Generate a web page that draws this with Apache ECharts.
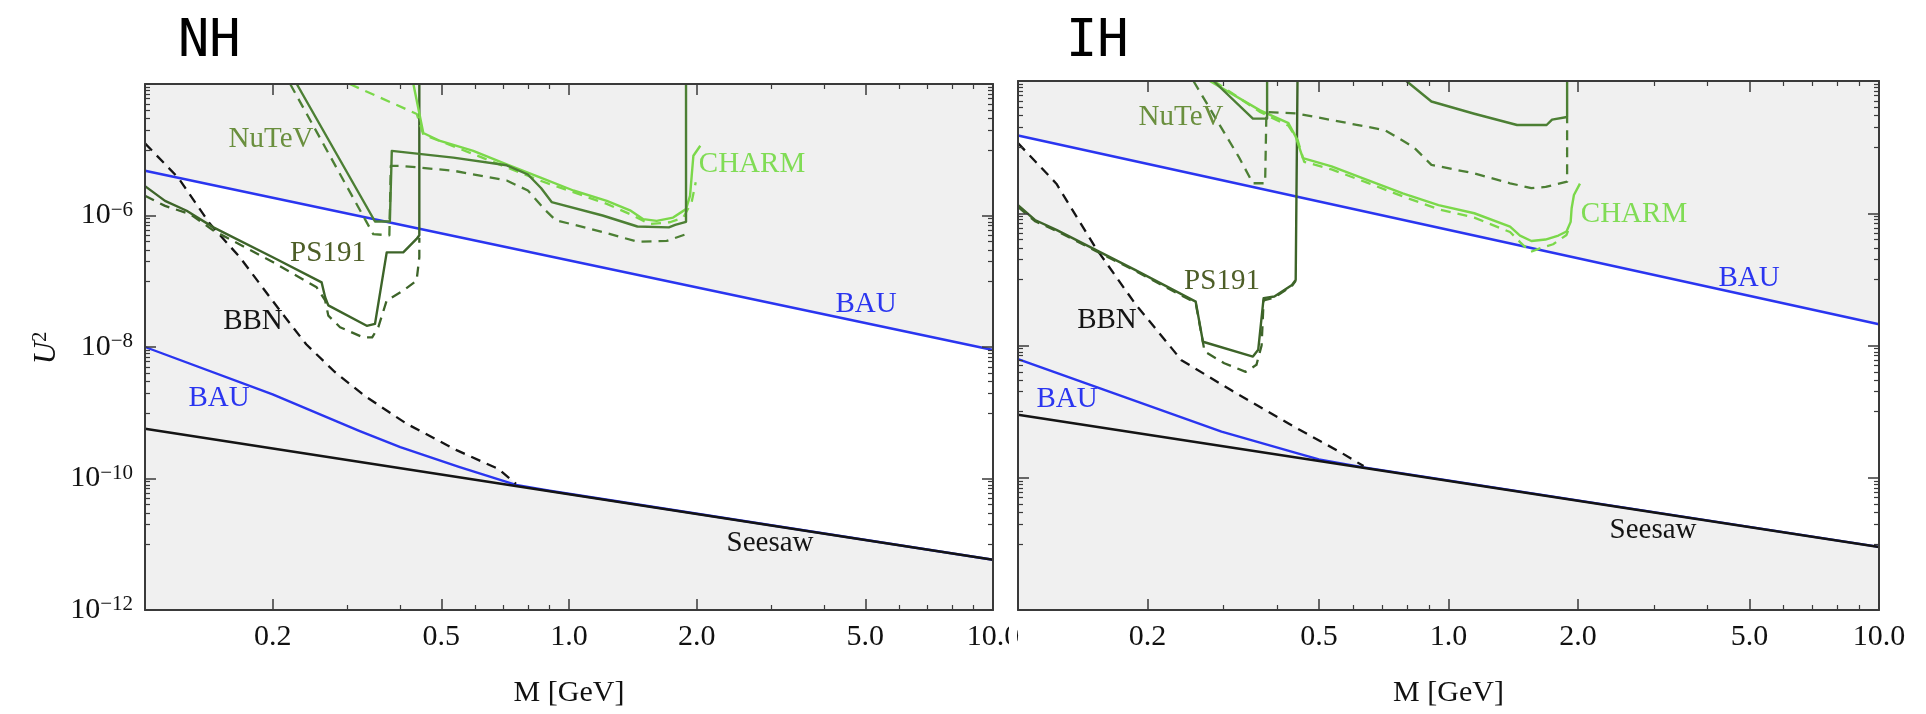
<!DOCTYPE html>
<html>
<head>
<meta charset="utf-8">
<script src="https://cdn.jsdelivr.net/npm/echarts@6/dist/echarts.min.js"></script>
<style>
  html, body { margin: 0; padding: 0; background: #fff; }
  #chart { width: 1926px; height: 714px; }
</style>
</head>
<body>
<div id="chart"></div>
<script>
// ---- axis ranges and ticks ----
const xRange = [0.1, 10];
const yRange = [1e-12, 1e-4];
const xMajorTicks = [0.2, 0.5, 1, 2, 5, 10];
const xMajorLabels = ['0.2', '0.5', '1.0', '2.0', '5.0', '10.0'];
const xMinorTicks = [0.3, 0.4, 0.6, 0.7, 0.8, 0.9, 3, 4, 6, 7, 8, 9];
const yMajorTicks = [1e-12, 1e-10, 1e-8, 1e-6, 1e-4];
const yLabelExponents = [-12, -10, -8, -6];
const yMinorDecades = [-11, -9, -7, -5];
const yMinorMantissas = [1, 2, 3, 4, 5, 6, 7, 8, 9];

// ---- NH: normal hierarchy (M in GeV, U^2) ----
const nhBauUpper = [[0.1, 4.8e-6], [10, 9.0e-9]];
const nhSeesaw = [[0.1, 5.7e-10], [10, 5.8e-12]];
const nhBauLower = [[0.1, 1.0e-8], [0.2, 1.9e-9], [0.32, 5.3e-10], [0.4, 3.0e-10], [0.55, 1.5e-10], [0.75, 8.0e-11], [0.9, 6.5e-11], [10, 5.8e-12]];
const nhBbn = [[0.1, 1.25e-5], [0.12, 3.7e-6], [0.142, 7.6e-7], [0.1675, 2.3e-7], [0.208, 3.6e-8], [0.24, 1.1e-8], [0.28, 4.2e-9], [0.33, 1.8e-9], [0.414, 6.8e-10], [0.543, 2.7e-10], [0.681, 1.4e-10], [0.75, 8.3e-11]];
const nhPs191 = [[0.1, 2.8e-6], [0.1115, 1.67e-6], [0.1254, 1.18e-6], [0.145, 6.6e-7], [0.2007, 2.3e-7], [0.261, 9.6e-8], [0.266, 5.7e-8], [0.2706, 4.3e-8], [0.3334, 2.1e-8], [0.3487, 2.25e-8], [0.3716, 2.75e-7], [0.4065, 2.75e-7], [0.437, 4.4e-7], [0.4436, 5.0e-7], [0.4436, 1e-4]];
const nhPs191Dashed = [[0.1, 2.0e-6], [0.1115, 1.4e-6], [0.1277, 1.05e-6], [0.145, 5.9e-7], [0.2007, 1.94e-7], [0.254, 8.1e-8], [0.266, 5.1e-8], [0.2706, 3.0e-8], [0.2884, 2.0e-8], [0.327, 1.4e-8], [0.3434, 1.4e-8], [0.355, 2.0e-8], [0.3716, 5.1e-8], [0.4065, 7.2e-8], [0.437, 1.02e-7], [0.4436, 2.3e-7], [0.4436, 4.6e-7]];
const nhNutev = [[0.228, 1e-4], [0.3487, 8.1e-7], [0.378, 8.1e-7], [0.382, 9.6e-6], [0.5335, 7.6e-6], [0.713, 5.8e-6], [0.80, 4.2e-6], [0.86, 2.6e-6], [0.91, 1.6e-6], [1.2, 1.0e-6], [1.45, 6.8e-7], [1.72, 6.6e-7], [1.78, 7.2e-7], [1.888, 8.0e-7], [1.888, 1e-4]];
const nhNutevDashed = [[0.22, 1e-4], [0.3454, 5.2e-7], [0.377, 5.0e-7], [0.38, 5.7e-6], [0.3995, 5.7e-6], [0.5335, 4.8e-6], [0.713, 3.4e-6], [0.80, 2.4e-6], [0.88, 1.2e-6], [0.93, 8.5e-7], [1.2, 5.6e-7], [1.45, 4.0e-7], [1.7, 4.1e-7], [1.888, 5.2e-7]];
const nhCharm = [[0.4295, 1e-4], [0.4533, 1.8e-5], [0.4966, 1.36e-5], [0.5946, 9.6e-6], [0.713, 6.0e-6], [0.854, 3.8e-6], [1.024, 2.4e-6], [1.228, 1.67e-6], [1.393, 1.2e-6], [1.497, 8.8e-7], [1.61, 8.3e-7], [1.76, 9.3e-7], [1.888, 1.25e-6], [1.93, 2.0e-6], [1.947, 4.0e-6], [1.965, 8.1e-6], [2.04, 1.15e-5]];
const nhCharmDashed = [[0.304, 1e-4], [0.4375, 3.5e-5], [0.4533, 1.7e-5], [0.5946, 8.6e-6], [0.854, 3.4e-6], [1.228, 1.5e-6], [1.393, 1.05e-6], [1.55, 7.4e-7], [1.73, 7.9e-7], [1.86, 9.3e-7], [1.947, 1.6e-6], [1.99, 3.2e-6]];

// ---- IH: inverted hierarchy ----
const ihBauUpper = [[0.1, 1.5e-5], [10, 2.1e-8]];
const ihSeesaw = [[0.1, 9.0e-10], [10, 9.0e-12]];
const ihBauLower = [[0.1, 6.2e-9], [0.297, 5.0e-10], [0.44, 2.4e-10], [0.5, 1.9e-10], [0.63, 1.45e-10], [10, 9.0e-12]];
const ihBbn = [[0.1, 1.15e-5], [0.1228, 2.8e-6], [0.1515, 3.0e-7], [0.187, 4.3e-8], [0.2397, 6.0e-9], [0.313, 2.1e-9], [0.425, 6.6e-10], [0.566, 2.35e-10], [0.635, 1.5e-10]];
const ihPs191 = [[0.1, 1.33e-6], [0.1095, 7.9e-7], [0.1228, 5.6e-7], [0.1515, 2.8e-7], [0.187, 1.39e-7], [0.2587, 4.6e-8], [0.2689, 1.14e-8], [0.3513, 6.8e-9], [0.3614, 8.6e-9], [0.372, 5.2e-8], [0.394, 5.5e-8], [0.433, 8.2e-8], [0.4416, 9.8e-8], [0.4459, 1e-4]];
const ihPs191Dashed = [[0.1, 1.25e-6], [0.1095, 7.6e-7], [0.1228, 5.4e-7], [0.1515, 2.7e-7], [0.187, 1.35e-7], [0.2587, 4.4e-8], [0.2713, 8.1e-9], [0.3014, 5.4e-9], [0.338, 4.0e-9], [0.358, 5.1e-9], [0.368, 1.0e-8], [0.372, 4.8e-8], [0.394, 5.3e-8], [0.433, 8.0e-8], [0.4416, 9.5e-8]];
const ihNutevLow = [[0.2846, 1e-4], [0.3513, 2.7e-5], [0.379, 2.7e-5], [0.379, 1e-4]];
const ihNutevHigh = [[0.798, 1e-4], [0.9127, 4.9e-5], [1.148, 3.2e-5], [1.443, 2.16e-5], [1.69, 2.16e-5], [1.74, 2.6e-5], [1.886, 2.85e-5], [1.886, 1e-4]];
const ihNutevDashed = [[0.2556, 1e-4], [0.2956, 2.04e-5], [0.3254, 7.2e-6], [0.3513, 2.84e-6], [0.375, 2.84e-6], [0.3776, 3.4e-5], [0.4416, 3.24e-5], [0.535, 2.57e-5], [0.712, 1.8e-5], [0.83, 1.0e-5], [0.9127, 5.4e-6], [1.148, 4.0e-6], [1.39, 2.84e-6], [1.558, 2.4e-6], [1.682, 2.5e-6], [1.886, 3.0e-6], [1.886, 2.8e-5]];
const ihCharm = [[0.279, 1e-4], [0.365, 3.6e-5], [0.425, 2.3e-5], [0.4416, 1.44e-5], [0.4589, 6.8e-6], [0.535, 5.1e-6], [0.647, 3.2e-6], [0.783, 2.0e-6], [0.948, 1.33e-6], [1.148, 1.0e-6], [1.39, 6.3e-7], [1.466, 4.6e-7], [1.558, 3.8e-7], [1.68, 4.0e-7], [1.80, 4.6e-7], [1.88, 5.3e-7], [1.922, 7.4e-7], [1.932, 1.19e-6], [1.956, 1.89e-6], [2.02, 2.8e-6]];
const ihCharmDashed = [[0.285, 1e-4], [0.365, 3.4e-5], [0.425, 2.1e-5], [0.446, 1.3e-5], [0.462, 6.0e-6], [0.535, 4.6e-6], [0.647, 2.9e-6], [0.783, 1.8e-6], [0.948, 1.15e-6], [1.148, 8.6e-7], [1.39, 5.2e-7], [1.47, 3.6e-7], [1.55, 2.6e-7], [1.63, 2.95e-7], [1.75, 3.4e-7], [1.88, 4.7e-7], [1.91, 6.2e-7]];

// ---- styling ----
const FRAME = '#3a3a3a';
const SHADE = '#f0f0f0';
const BLUE = '#2a35f0';
const BLACK = '#141414';
const DARK_GREEN = '#3d6429';
const MID_GREEN = '#4c7f34';
const LIGHT_GREEN = '#7bd84a';
const SERIF = '"Liberation Serif", "Times New Roman", serif';

const lg = Math.log10;
const yMinorTicks = [];
yMinorDecades.forEach(d => yMinorMantissas.forEach(m => yMinorTicks.push(m * Math.pow(10, d))));

function xLabelFor(v) {
  for (let i = 0; i < xMajorTicks.length; i++) {
    if (Math.abs(lg(xMajorTicks[i]) - v) < 1e-6) return xMajorLabels[i];
  }
  return '';
}

// Each panel gets one hidden log axis per direction that carries the data,
// plus value axes (in decades) that draw the framed, mirrored tick marks.
function panelXAxes(grid, withName) {
  const common = { gridIndex: grid, type: 'value', min: lg(xRange[0]), max: lg(xRange[1]),
    splitLine: { show: false }, z: 10, silent: true };
  const majorTick = { show: true, inside: true, length: 11, customValues: xMajorTicks.map(lg),
    lineStyle: { color: FRAME, width: 1.5 } };
  const minorTick = { show: true, inside: true, length: 5, customValues: xMinorTicks.map(lg),
    lineStyle: { color: FRAME, width: 1.2 } };
  const frame = { show: true, onZero: false, lineStyle: { color: FRAME, width: 2 } };
  return [
    { gridIndex: grid, type: 'log', logBase: 10, min: xRange[0], max: xRange[1], show: false },
    Object.assign({}, common, {
      position: 'bottom', axisLine: frame, axisTick: majorTick,
      axisLabel: { show: true, customValues: xMajorTicks.map(lg), formatter: xLabelFor, margin: 12,
        color: '#111', fontFamily: SERIF, fontSize: 30 },
      name: withName ? 'M [GeV]' : '', nameLocation: 'middle', nameGap: 68,
      nameTextStyle: { fontFamily: SERIF, fontSize: 30, color: '#111' }
    }),
    Object.assign({}, common, { position: 'bottom', axisLine: { show: false, onZero: false }, axisTick: minorTick, axisLabel: { show: false } }),
    Object.assign({}, common, { position: 'top', axisLine: frame, axisTick: majorTick, axisLabel: { show: false } }),
    Object.assign({}, common, { position: 'top', axisLine: { show: false, onZero: false }, axisTick: minorTick, axisLabel: { show: false } })
  ];
}

function panelYAxes(grid, withLabels) {
  const common = { gridIndex: grid, type: 'value', min: lg(yRange[0]), max: lg(yRange[1]),
    splitLine: { show: false }, z: 10, silent: true };
  const majorTick = { show: true, inside: true, length: 11, customValues: yMajorTicks.map(lg),
    lineStyle: { color: FRAME, width: 1.5 } };
  const minorTick = { show: true, inside: true, length: 5, customValues: yMinorTicks.map(lg),
    lineStyle: { color: FRAME, width: 1.2 } };
  const frame = { show: true, onZero: false, lineStyle: { color: FRAME, width: 2 } };
  return [
    { gridIndex: grid, type: 'log', logBase: 10, min: yRange[0], max: yRange[1], show: false },
    Object.assign({}, common, {
      position: 'left', axisLine: frame, axisTick: majorTick,
      axisLabel: withLabels ? {
        show: true, customValues: yLabelExponents, margin: 12,
        formatter: v => '{b|10}{s|\u2212' + Math.abs(Math.round(v)) + '}',
        rich: {
          b: { fontFamily: SERIF, fontSize: 30, color: '#111', lineHeight: 32 },
          s: { fontFamily: SERIF, fontSize: 21, color: '#111', verticalAlign: 'top', lineHeight: 32, padding: [0, 0, 13, 0] }
        }
      } : { show: false }
    }),
    Object.assign({}, common, { position: 'left', axisLine: { show: false, onZero: false }, axisTick: minorTick, axisLabel: { show: false } }),
    Object.assign({}, common, { position: 'right', axisLine: frame, axisTick: majorTick, axisLabel: { show: false } }),
    Object.assign({}, common, { position: 'right', axisLine: { show: false, onZero: false }, axisTick: minorTick, axisLabel: { show: false } })
  ];
}

function fill(grid, data, color) {
  return { type: 'line', xAxisIndex: grid * 5, yAxisIndex: grid * 5, data: data, symbol: 'none', silent: true,
    lineStyle: { opacity: 0 }, areaStyle: { color: color, opacity: 1, origin: yRange[0] }, z: 1 };
}
function curve(grid, data, color, width, dash) {
  return { type: 'line', xAxisIndex: grid * 5, yAxisIndex: grid * 5, data: data, symbol: 'none', silent: true,
    lineStyle: { color: color, width: width, type: dash ? dash : 'solid', cap: 'butt', join: 'round' }, z: 3 };
}

function panelSeries(g, d) {
  return [
    // allowed band between the BAU bound and the lower bounds is white
    fill(g, d.bauUpper, '#ffffff'),
    fill(g, d.bbn, SHADE),
    fill(g, d.bauLower, SHADE),
    fill(g, d.seesaw, SHADE),
    curve(g, d.bauLower, BLUE, 2.4),
    curve(g, d.seesaw, BLACK, 2.5),
    curve(g, d.bauUpper, BLUE, 2.6),
    curve(g, d.bbn, BLACK, 2.3, [10, 7]),
    curve(g, d.ps191Dashed, DARK_GREEN, 2.3, [10, 7]),
    curve(g, d.ps191, DARK_GREEN, 2.4),
    curve(g, d.charmDashed, LIGHT_GREEN, 2.3, [10, 7]),
    curve(g, d.charm, LIGHT_GREEN, 2.4),
    curve(g, d.nutevDashed, MID_GREEN, 2.3, [10, 7])
  ].concat(d.nutev.map(seg => curve(g, seg, MID_GREEN, 2.4)));
}

function label(text, x, y, color) {
  return { type: 'text', z: 50, silent: true,
    style: { text: text, x: x, y: y, fill: color, font: '29px ' + SERIF,
      textAlign: 'center', textVerticalAlign: 'middle' } };
}

const option = {
  animation: false,
  backgroundColor: '#ffffff',
  grid: [
    { left: 145, top: 84, width: 848, height: 526, show: true, backgroundColor: SHADE, borderWidth: 0 },
    { left: 1018, top: 81, width: 861, height: 529, show: true, backgroundColor: SHADE, borderWidth: 0 }
  ],
  xAxis: panelXAxes(0, true).concat(panelXAxes(1, true)),
  yAxis: panelYAxes(0, true).concat(panelYAxes(1, false)),
  series: panelSeries(0, {
    bauUpper: nhBauUpper, seesaw: nhSeesaw, bauLower: nhBauLower, bbn: nhBbn,
    ps191: nhPs191, ps191Dashed: nhPs191Dashed, nutev: [nhNutev], nutevDashed: nhNutevDashed,
    charm: nhCharm, charmDashed: nhCharmDashed
  }).concat(panelSeries(1, {
    bauUpper: ihBauUpper, seesaw: ihSeesaw, bauLower: ihBauLower, bbn: ihBbn,
    ps191: ihPs191, ps191Dashed: ihPs191Dashed, nutev: [ihNutevLow, ihNutevHigh], nutevDashed: ihNutevDashed,
    charm: ihCharm, charmDashed: ihCharmDashed
  })),
  graphic: [
    { type: 'text', z: 50, style: { text: 'NH', x: 178, y: 42, fill: '#000', font: '52px "DejaVu Sans Mono"', textVerticalAlign: 'middle' } },
    { type: 'text', z: 50, style: { text: 'IH', x: 1066, y: 42, fill: '#000', font: '52px "DejaVu Sans Mono"', textVerticalAlign: 'middle' } },
    { type: 'text', z: 50, rotation: Math.PI / 2, x: 47, y: 348,
      style: { text: '{u|U}{s|2}', textAlign: 'center', textVerticalAlign: 'middle',
        rich: { u: { font: 'italic 31px ' + SERIF, fill: '#111' }, s: { font: '20px ' + SERIF, fill: '#111', verticalAlign: 'top', padding: [0, 0, 12, 0] } } } },
    // the right panel's margin hides the overhanging end of the left panel's last tick label
    { type: 'rect', z: 60, silent: true, shape: { x: 1009, y: 614, width: 8, height: 50 }, style: { fill: '#ffffff' } },
    // NH annotations
    label('NuTeV', 271, 139, '#6a8f3e'),
    label('CHARM', 752, 164, '#80dc55'),
    label('PS191', 328, 253, '#4d5e27'),
    label('BBN', 253, 321, BLACK),
    label('BAU', 219, 398, BLUE),
    label('BAU', 866, 304, BLUE),
    label('Seesaw', 770, 543, BLACK),
    // IH annotations
    label('NuTeV', 1181, 117, '#6a8f3e'),
    label('CHARM', 1634, 214, '#80dc55'),
    label('PS191', 1222, 281, '#4d5e27'),
    label('BBN', 1107, 320, BLACK),
    label('BAU', 1067, 399, BLUE),
    label('BAU', 1749, 278, BLUE),
    label('Seesaw', 1653, 530, BLACK)
  ]
};

const chart = echarts.init(document.getElementById('chart'), null, { renderer: 'canvas' });
chart.setOption(option);
</script>
</body>
</html>
